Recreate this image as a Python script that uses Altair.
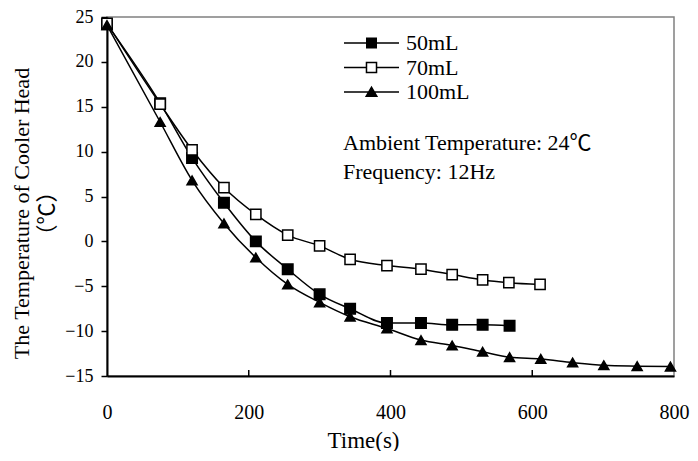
import altair as alt
import pandas as pd

# ---- data ----
series_names = ["50mL", "70mL", "100mL"]

time_50 = [0, 75, 120, 165, 210, 255, 300, 343, 395, 443, 487, 530, 568]
temp_50 = [24.2, 15.4, 9.3, 4.3, 0.0, -3.1, -5.9, -7.5, -9.1, -9.1, -9.3, -9.3, -9.4]

time_70 = [0, 75, 120, 165, 210, 255, 300, 343, 395, 443, 487, 530, 567, 611]
temp_70 = [24.3, 15.3, 10.2, 6.0, 3.0, 0.7, -0.5, -2.0, -2.7, -3.1, -3.7, -4.3, -4.6, -4.8]

time_100 = [0, 75, 120, 165, 210, 255, 300, 343, 395, 443, 487, 530, 568, 612, 657, 701, 748, 795]
temp_100 = [24.1, 13.3, 6.8, 2.0, -1.8, -4.8, -6.8, -8.4, -9.7, -11.0, -11.6, -12.3, -12.9, -13.1,
            -13.5, -13.8, -13.9, -13.95]

x_ticks = [0, 200, 400, 600, 800]
x_inner_ticks = [200, 400, 600]
y_ticks = [-15, -10, -5, 0, 5, 10, 15, 20, 25]

annotations = ["Ambient Temperature: 24℃", "Frequency: 12Hz"]

frames = []
for name, t, v in zip(series_names, [time_50, time_70, time_100], [temp_50, temp_70, temp_100]):
    frames.append(pd.DataFrame({"time": t, "temp": v, "series": name}))
df = pd.concat(frames, ignore_index=True)

FONT = "Liberation Serif, Noto Sans CJK SC, serif"
W, H = 567, 359
TOP = 9

x_scale = alt.Scale(domain=[0, 800], nice=False)
y_scale = alt.Scale(domain=[-15, 25], nice=False)

x_enc = alt.X(
    "time:Q",
    scale=x_scale,
    axis=alt.Axis(
        values=x_ticks, title="Time(s)", titleX=256, titleY=71, titleBaseline="alphabetic",
        titleAlign="center", labelPadding=26, ticks=False, labelFlush=False,
        labelFontSize=20, titleFontSize=23,
    ),
)
y_enc = alt.Y(
    "temp:Q",
    scale=y_scale,
    axis=alt.Axis(
        values=y_ticks, title=["The Temperature of Cooler Head", "（℃）"],
        titleX=-96, titleY=196, titleAngle=-90, titleBaseline="top", titleAlign="center",
        titleLineHeight=25, labelPadding=8, tickSize=6, labelFontSize=18, labelFlush=False,
        titleFontSize=22,
    ),
)

lines = alt.Chart(df).mark_line(color="black", strokeWidth=1.5, interpolate="monotone").encode(
    x=x_enc, y=y_enc, detail="series:N"
)

points = alt.Chart(df).mark_point(filled=True, stroke="black", strokeWidth=1.5, opacity=1).encode(
    x=x_enc,
    y=y_enc,
    shape=alt.Shape(
        "series:N",
        scale=alt.Scale(domain=series_names, range=["square", "square", "triangle-up"]),
        legend=None,
    ),
    fill=alt.Fill("series:N", scale=alt.Scale(domain=series_names, range=["black", "white", "black"]),
                  legend=None),
    size=alt.Size("series:N", scale=alt.Scale(domain=series_names, range=[110, 100, 150]), legend=None),
)

# legend-only layer (no rows): line + marker symbols drawn as filled unit paths
legend_paths = [
    "M-1,-0.028H1V0.028H-1ZM-0.2,-0.2H0.2V0.2H-0.2Z",
    "M-1,-0.028H-0.2V0.028H-1ZM0.2,-0.028H1V0.028H0.2Z"
    "M-0.21,-0.21H0.21V0.21H-0.21ZM-0.155,-0.155V0.155H0.155V-0.155Z",
    "M-1,-0.028H1V0.028H-1ZM0,-0.23L0.24,0.18H-0.24Z",
]
empty_df = pd.DataFrame({"time": pd.Series([], dtype=float), "temp": pd.Series([], dtype=float),
                         "series": pd.Series([], dtype=str)})
legend_layer = alt.Chart(empty_df).mark_point(filled=True, color="black").encode(
    x=alt.X("time:Q", scale=x_scale),
    y=alt.Y("temp:Q", scale=y_scale),
    shape=alt.Shape(
        "series:N",
        scale=alt.Scale(domain=series_names, range=legend_paths),
        legend=alt.Legend(
            title=None, orient="none", legendX=236, legendY=15, padding=0,
            symbolSize=3025, clipHeight=22, rowPadding=2.5, labelOffset=6,
            labelFont=FONT, labelFontSize=22, labelColor="black",
            symbolFillColor="black", symbolOpacity=1,
        ),
    ),
)

tick_df = pd.DataFrame({"time": x_inner_ticks})
inner_ticks = alt.Chart(tick_df).mark_rule(color="black", strokeWidth=1.5).encode(
    x=alt.X("time:Q", scale=x_scale),
    y=alt.value(H - 6),
    y2=alt.value(H),
)

ann_df = pd.DataFrame({"text": annotations})
ann1 = alt.Chart(ann_df.iloc[[0]]).mark_text(
    align="left", baseline="middle", font=FONT, fontSize=22, color="black"
).encode(text="text:N", x=alt.value(236), y=alt.value(126))
ann2 = alt.Chart(ann_df.iloc[[1]]).mark_text(
    align="left", baseline="middle", font=FONT, fontSize=22, color="black"
).encode(text="text:N", x=alt.value(236), y=alt.value(155))

chart = (
    alt.layer(inner_ticks, lines, points, legend_layer, ann1, ann2)
    .resolve_scale(shape="independent")
    .properties(
        width=W, height=H,
        autosize=alt.AutoSizeParams(type="none"),
        padding={"left": 99, "top": TOP, "right": 16, "bottom": 75},
    )
    .configure_view(stroke="#808080", strokeWidth=1.5)
    .configure_axis(
        grid=False, domainColor="black", domainWidth=2, tickColor="black", tickWidth=1.5,
        labelFont=FONT, labelColor="black", titleFont=FONT, titleColor="black",
        titleFontWeight="normal",
    )
)

chart.save("out.html", embed_options={"renderer": "svg", "actions": False})
